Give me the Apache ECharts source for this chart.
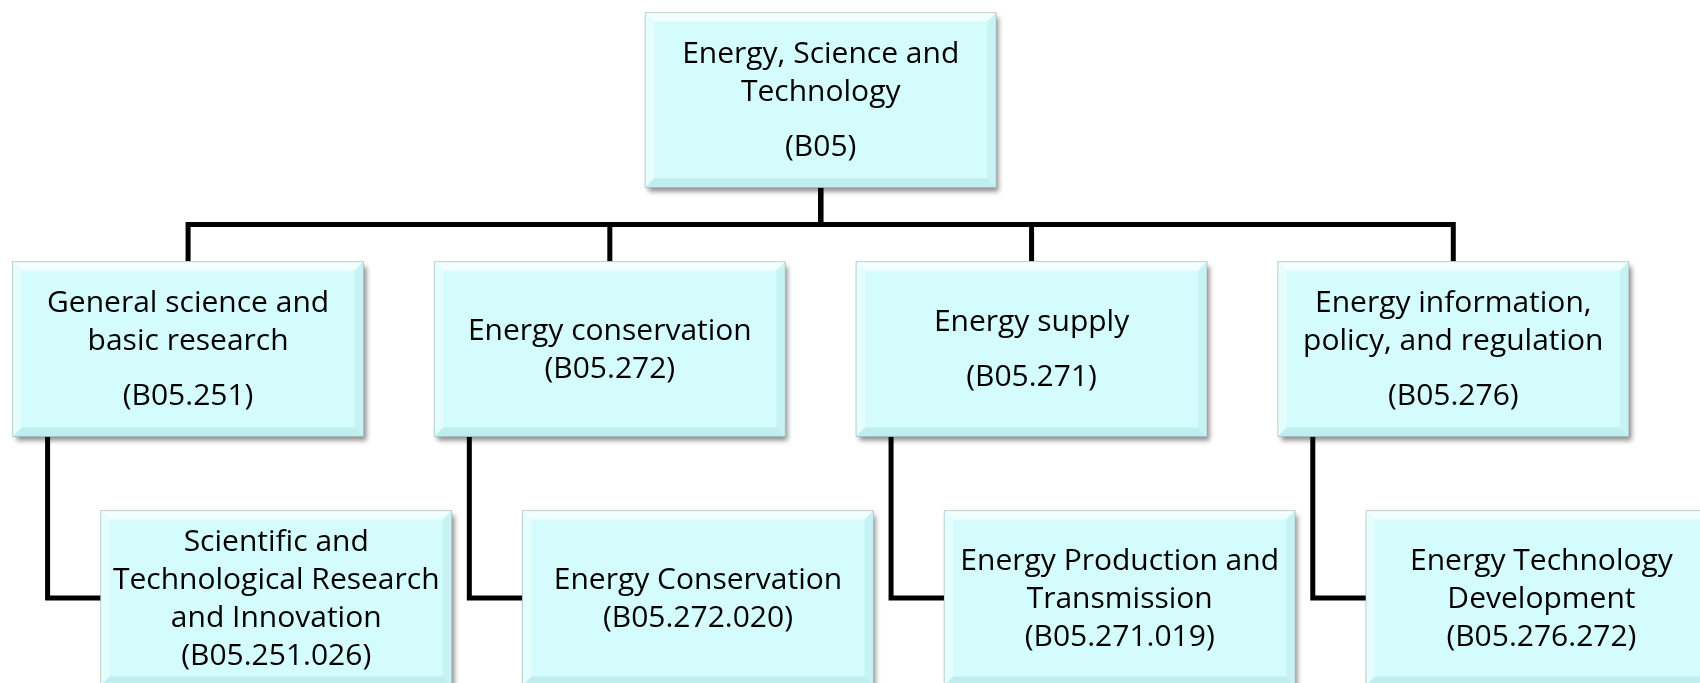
<!DOCTYPE html>
<html lang="en">
<head>
  <meta charset="UTF-8">
  <title>Energy, Science and Technology</title>
  <script src="https://cdn.jsdelivr.net/npm/echarts@6.0.0/dist/echarts.min.js"></script>
  <style>
    html, body { margin: 0; padding: 0; background: #fff; }
    #chart { width: 1700px; height: 683px; }
  </style>
</head>
<body>
<div id="chart"></div>
<script type="text/javascript">
  // node texts
  var nodeLabels = [
    'Energy, Science and\nTechnology',
    'General science and\nbasic research',
    'Energy conservation',
    'Energy supply',
    'Energy information,\npolicy, and regulation',
    'Scientific and\nTechnological Research\nand Innovation',
    'Energy Conservation',
    'Energy Production and\nTransmission',
    'Energy Technology\nDevelopment'
  ];
  var nodeCodes = ['(B05)', '(B05.251)', '(B05.272)', '(B05.271)', '(B05.276)',
    '(B05.251.026)', '(B05.272.020)', '(B05.271.019)', '(B05.276.272)'];
  var nodeLevel = [0, 1, 1, 1, 1, 2, 2, 2, 2];
  var nodeParent = [-1, 0, 0, 0, 0, 1, 2, 3, 4];
  // blank line between title and code
  var codeGap = [true, true, false, true, true, false, false, false, false];

  // layout constants
  var BOX_W = 351, BOX_H = 175, BEVEL = 9;
  var CHILD_SHIFT = 0.209;   // level-2 box shift to the right, in columns
  var FILL = '#d5fcfd';

  // work out a column for every node
  var col = [];
  var l1 = 0;
  nodeLevel.forEach(function (lv, i) {
    if (lv === 1) col[i] = l1++;
  });
  var kids = [];
  nodeLevel.forEach(function (lv, i) { if (lv === 1) kids.push(col[i]); });
  col[0] = kids.reduce(function (a, b) { return a + b; }, 0) / kids.length;
  nodeLevel.forEach(function (lv, i) {
    if (lv === 2) col[i] = col[nodeParent[i]] + CHILD_SHIFT;
  });

  var boxData = nodeLabels.map(function (_, i) { return [col[i], nodeLevel[i], i]; });
  var edgeData = [];
  nodeParent.forEach(function (p, i) { if (p >= 0) edgeData.push([col[i], nodeLevel[i], i]); });

  function richText(i) {
    var parts = nodeLabels[i].split('\n').map(function (l) { return '{t|' + l + '}'; });
    if (codeGap[i]) parts.push('{s| }');
    parts.push('{t|' + nodeCodes[i] + '}');
    return parts.join('\n');
  }

  var myChart = echarts.init(document.getElementById('chart'));
  myChart.setOption({
    animation: false,
    grid: { left: 0, right: 0, top: 0, bottom: 0 },
    xAxis: { type: 'value', min: -0.446, max: 3.585, show: false },
    yAxis: { type: 'value', min: -0.402, max: 2.341, inverse: true, show: false },
    series: [
      {
        // connectors
        type: 'custom',
        z: 1,
        data: edgeData,
        renderItem: function (params, api) {
          var i = api.value(2);
          var p = nodeParent[i];
          var c = api.coord([col[i], nodeLevel[i]]);
          var pc = api.coord([col[p], nodeLevel[p]]);
          var pts;
          if (nodeLevel[i] === 1) {
            var pb = pc[1] + BOX_H / 2;
            var ct = c[1] - BOX_H / 2;
            var bus = (pb + ct) / 2;
            pts = [[pc[0], pb], [pc[0], bus], [c[0], bus], [c[0], ct]];
          } else {
            var ex = pc[0] - BOX_W / 2 + 35;
            pts = [[ex, pc[1] + BOX_H / 2], [ex, c[1]], [c[0] - BOX_W / 2, c[1]]];
          }
          return {
            type: 'polyline',
            shape: { points: pts },
            style: { stroke: '#000', lineWidth: 5, fill: null, lineJoin: 'miter' }
          };
        }
      },
      {
        // boxes
        type: 'custom',
        z: 2,
        data: boxData,
        renderItem: function (params, api) {
          var i = api.value(2);
          var c = api.coord([api.value(0), api.value(1)]);
          var w = BOX_W, h = BOX_H, b = BEVEL;
          var x = c[0] - w / 2, y = c[1] - h / 2;
          return {
            type: 'group',
            children: [
              { type: 'rect', shape: { x: x, y: y, width: w, height: h },
                style: { fill: FILL, shadowBlur: 5, shadowOffsetX: 3, shadowOffsetY: 4,
                  shadowColor: 'rgba(0,0,0,0.45)' } },
              { type: 'polygon', shape: { points: [[x, y], [x + w, y], [x + w - b, y + b], [x + b, y + b]] },
                style: { fill: '#f2ffff' } },
              { type: 'polygon', shape: { points: [[x, y], [x + b, y + b], [x + b, y + h - b], [x, y + h]] },
                style: { fill: '#e4fefe' } },
              { type: 'polygon', shape: { points: [[x + w, y], [x + w, y + h], [x + w - b, y + h - b], [x + w - b, y + b]] },
                style: { fill: '#c8f3f4' } },
              { type: 'polygon', shape: { points: [[x, y + h], [x + b, y + h - b], [x + w - b, y + h - b], [x + w, y + h]] },
                style: { fill: '#bfeeee' } },
              { type: 'rect', shape: { x: x, y: y, width: w, height: h },
                style: { fill: null, stroke: 'rgba(120,120,120,0.35)', lineWidth: 1 } },
              { type: 'text', x: c[0], y: c[1] + 1,
                style: {
                  text: richText(i),
                  align: 'center',
                  verticalAlign: 'middle',
                  fill: '#000',
                  rich: {
                    t: { fontFamily: 'Open Sans', fontSize: 30, lineHeight: 38, fill: '#000' },
                    s: { fontSize: 10, lineHeight: 17 }
                  }
                } }
            ]
          };
        }
      }
    ]
  });
</script>
</body>
</html>
